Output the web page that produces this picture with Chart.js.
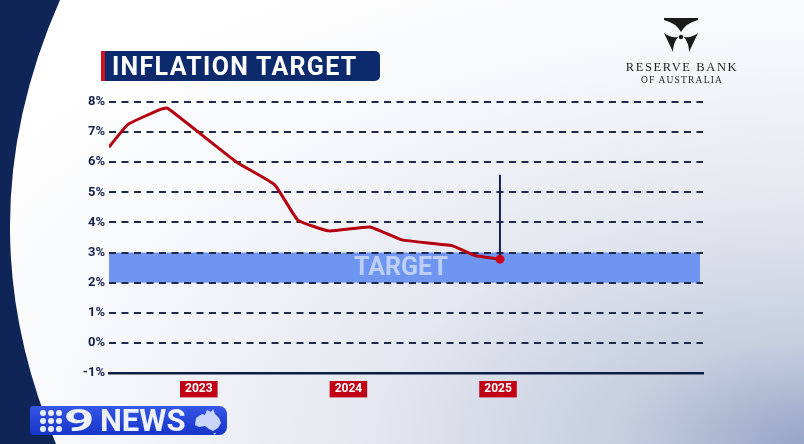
<!DOCTYPE html>
<html lang="en">
<head>
    <meta charset="UTF-8">
    <title>Inflation Target</title>
    <script src="https://cdn.jsdelivr.net/npm/chart.js"></script>
    <style>
        html, body { margin: 0; padding: 0; }
        body {
            width: 804px; height: 444px; overflow: hidden; position: relative;
            background: radial-gradient(ellipse farthest-corner at 100% 100%, #97a5c6 0%, #c6cee0 16%, #e3e7ef 38%, #f6f7fa 62%, #ffffff 85%);
            font-family: Roboto, "Noto Sans", sans-serif;
        }
        .navy {
            position: absolute; left: 0; top: 0; width: 70px; height: 444px;
            background: #0f2558;
            clip-path: path('M0 0 L60 0 Q -38 222 56 444 L0 444 Z');
        }
        .wrap { position: absolute; left: 0; top: 0; width: 804px; height: 444px; }
        .title {
            position: absolute; left: 101px; top: 51px; width: 268px; height: 30px;
            background: #0c2a6c; border-left: 4px solid #d4111d; border-radius: 0 5px 5px 0;
            color: #fff; font-weight: bold; font-size: 25px; line-height: 31px;
            padding-left: 7px; letter-spacing: 1.3px;
        }
        .rba { position: absolute; left: 610px; top: 16px; width: 144px; text-align: center; color: #1e1e1e;
               font-family: "Liberation Serif", "DejaVu Serif", serif; }
        .rba .l1 { font-size: 12.5px; letter-spacing: 1.6px; margin-top: 4px; line-height: 14px; }
        .rba .l2 { font-size: 9.5px; letter-spacing: 1.2px; line-height: 13px; }
        .news {
            position: absolute; left: 30px; top: 406px; width: 197px; height: 29px;
            background: linear-gradient(#3656e6, #1635c9); border-radius: 3px 8px 8px 3px;
            color: #eef2ff; font-weight: bold; font-size: 31px; line-height: 30px;
        }
        .news .nine { position: absolute; left: 34px; top: 0; display: inline-block; transform: scaleX(1.7); transform-origin: left; }
        .news .word { position: absolute; left: 70px; top: 0; }
    </style>
</head>
<body>
    <div class="navy"></div>
    <div class="wrap"><canvas id="grafico" width="804" height="444"></canvas></div>

    <div class="title">INFLATION TARGET</div>

    <div class="rba">
        <svg width="144" height="36" viewBox="0 0 144 36">
            <g fill="#1b1b1b" transform="translate(-610,-16)">
                <path d="M664 18 L698 18 L698 20 Q686 23 681 32 Q676 23 664 20 Z"/>
                <path d="M678 37 Q670 38 664 33 L673 52 Q673 43 678 37 Z"/>
                <path d="M684 37 Q692 38 698 33 L689 52 Q689 43 684 37 Z"/>
                <circle cx="681" cy="37" r="2.2"/>
            </g>
        </svg>
        <div class="l1">RESERVE BANK</div>
        <div class="l2">OF AUSTRALIA</div>
    </div>

    <div class="news">
        <svg width="34" height="29" style="position:absolute;left:0;top:0">
            <g fill="#e8eeff">
                <circle cx="13" cy="7" r="3"/><circle cx="21" cy="7" r="3"/><circle cx="29" cy="7" r="3"/>
                <circle cx="13" cy="15" r="3"/><circle cx="21" cy="15" r="3"/><circle cx="29" cy="15" r="3"/>
                <circle cx="13" cy="23" r="3"/><circle cx="21" cy="23" r="3"/><circle cx="29" cy="23" r="3"/>
            </g>
        </svg>
        <span class="nine">9</span><span class="word">NEWS</span>
        <svg width="34" height="29" style="position:absolute;left:160px;top:0">
            <path fill="#c9d5ff" d="M6 12 L12 8 L15 9 L17 4 L21 6 L23 3 L25 8 L29 12 L31 17 L28 22 L23 25 L19 23 L15 20 L9 21 L5 19 Z M23 27 L26 27 L25 29 Z"/>
        </svg>
    </div>

    <script>
        // dados (ano decimal e inflação anual em %)
        const datas = [2022.40, 2022.525, 2022.74, 2022.79, 2023.254, 2023.508, 2023.662, 2023.87, 2024.144, 2024.358, 2024.692, 2024.846, 2025.013];
        const inflacao = [6.5, 7.25, 7.75, 7.8, 6.0, 5.25, 4.08, 3.72, 3.85, 3.42, 3.23, 2.9, 2.78];
        const anos = [2023, 2024, 2025];
        const faixaMeta = [2, 3];
        const marcadorTopo = 5.58;

        const ultimo = inflacao.length - 1;

        // faixa azul da meta de inflação
        const faixaPlugin = {
            id: 'faixa',
            beforeDraw(chart) {
                const { ctx, chartArea: a, scales: { y } } = chart;
                const topo = y.getPixelForValue(faixaMeta[1]);
                const base = y.getPixelForValue(faixaMeta[0]);
                ctx.save();
                ctx.fillStyle = '#6e96f0';
                ctx.fillRect(a.left, topo, a.right - a.left - 3, base - topo);
                ctx.fillStyle = 'rgba(255,255,255,0.55)';
                ctx.font = 'bold 25px Roboto';
                ctx.textAlign = 'center';
                ctx.textBaseline = 'middle';
                ctx.fillText('TARGET', (a.left + a.right) / 2 - 5, (topo + base) / 2 + 1);
                ctx.restore();
            }
        };

        var ctx = document.getElementById('grafico').getContext('2d');
        var grafico = new Chart(ctx, {
            type: 'line',
            data: {
                datasets: [{
                    data: datas.map((d, i) => ({ x: d, y: inflacao[i] })),
                    borderColor: '#b5000f',
                    borderWidth: 3,
                    tension: 0.12,
                    pointRadius: c => c.dataIndex === ultimo ? 4.5 : 0,
                    pointBackgroundColor: '#cc0018',
                    pointBorderWidth: 0,
                    order: 0
                }, {
                    data: [{ x: datas[ultimo], y: marcadorTopo }, { x: datas[ultimo], y: inflacao[ultimo] }],
                    borderColor: '#14224e',
                    borderWidth: 2,
                    pointRadius: 0,
                    order: 1
                }]
            },
            options: {
                responsive: false,
                animation: false,
                layout: { padding: { top: 102, right: 101, bottom: 0, left: 0 } },
                plugins: { legend: { display: false }, tooltip: { enabled: false } },
                scales: {
                    x: {
                        type: 'linear',
                        min: 2022.40,
                        max: 2026.37,
                        afterBuildTicks: s => { s.ticks = anos.map(v => ({ value: v })); },
                        afterFit: s => { s.height = 71; },
                        grid: { display: false, drawTicks: false },
                        border: { display: true, color: '#0f1d45', width: 2.5 },
                        ticks: {
                            padding: 9,
                            color: '#ffffff',
                            font: { family: 'Roboto', weight: 'bold', size: 12 },
                            callback: v => String(v),
                            showLabelBackdrop: true,
                            backdropColor: '#c10014',
                            backdropPadding: { top: 1, bottom: 1, left: 5, right: 5 },
                            maxRotation: 0
                        }
                    },
                    y: {
                        min: -1,
                        max: 8,
                        afterFit: s => { s.width = 109; },
                        grid: { color: '#1f2a4b', lineWidth: 2, drawTicks: false },
                        border: { display: false, dash: [7, 5.5] },
                        ticks: {
                            stepSize: 1,
                            padding: 4,
                            color: '#17224a',
                            font: { family: 'Roboto', weight: 'bold', size: 13 },
                            callback: v => v + '%'
                        }
                    }
                }
            },
            plugins: [faixaPlugin]
        });
    </script>
</body>
</html>
